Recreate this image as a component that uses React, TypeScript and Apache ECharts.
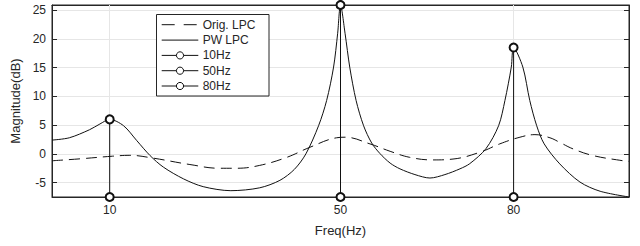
import React, { useEffect, useRef } from 'react';
import * as echarts from 'echarts';

// PW LPC (solid) curve
const pwFreq = [0, 3, 6.5, 8.3, 10, 12.4, 14.7, 17, 19.3, 22.8, 26.2, 31, 36, 39.5, 42, 44, 46.2, 47.6, 48.8, 49.5, 50, 50.8, 51.6, 52.7, 54, 55.4, 56.8, 58.6, 60.3, 62.9, 65.5, 68.1, 70.7, 72.4, 75.2, 77.4, 78.5, 79.6, 80, 81.6, 82.8, 84, 85.3, 88, 91.5, 95, 100];
const pwMag = [2.4, 2.8, 4.2, 5.2, 6.0, 4.9, 2.3, -0.3, -2.3, -4.35, -5.7, -6.4, -5.9, -4.6, -2.7, 0.0, 4.9, 9.3, 15.1, 20.9, 25.9, 20.9, 15.1, 9.3, 4.9, 1.9, 0.1, -1.6, -2.6, -3.6, -4.2, -3.6, -2.6, -1.7, 0.9, 4.9, 9.3, 15.1, 18.5, 15.1, 9.3, 4.9, 1.74, -1.74, -4.9, -6.5, -7.5];

// Orig. LPC (dashed) curve
const origFreq = [0, 5, 10.5, 13.5, 17.3, 23.9, 29, 32, 36, 40.7, 44.7, 49.3, 50.8, 55.1, 58.6, 62, 66, 69.5, 74.2, 77.6, 81.1, 83.7, 86.3, 88, 90.3, 93.8, 98.8, 100];
const origMag = [-1.2, -0.85, -0.4, -0.25, -0.7, -1.85, -2.5, -2.5, -2.0, -0.6, 1.15, 2.8, 2.9, 1.74, 0.45, -0.6, -1.05, -0.9, 0.3, 1.74, 2.9, 3.35, 2.8, 2.0, 0.87, -0.3, -1.17, -1.3];

// stems
const stemNames = ['10Hz', '50Hz', '80Hz'];
const stemFreq = [10, 50, 80];
const stemPeak = [6.0, 25.9, 18.5];

const xTicks = [10, 50, 80];
const yTicks = [-5, 0, 5, 10, 15, 20, 25];
const xMin = 0;
const xMax = 100;
const yMin = -7.5;
const yMax = 25.9;

const legendNames = ['Orig. LPC', 'PW LPC', ...stemNames];

const FONT = "'Liberation Sans', Arial, Helvetica, sans-serif";
const AX = '#262626';
const GRID = '#e6e6e6';

export default function App() {
  const ref = useRef<HTMLDivElement>(null);
  useEffect(() => {
    if (!ref.current) return;
    const chart = echarts.init(ref.current, undefined, { renderer: 'svg' });

    const zip = (xs: number[], ys: number[]) => xs.map((x, i) => [x, ys[i]]);

    const stemSeries = stemNames.map((name, i) => ({
      name,
      type: 'line',
      data: [
        [stemFreq[i], yMin],
        [stemFreq[i], stemPeak[i]],
      ],
      symbol: 'emptyCircle',
      symbolSize: 8,
      showSymbol: true,
      clip: false,
      z: 5,
      lineStyle: { color: '#111', width: 1 },
      itemStyle: { color: '#111', borderColor: '#111', borderWidth: 1 },
    }));

    // legend built from graphic elements
    const lx = 156.5, ly = 14.5, lw = 112.5, lh = 81.5;
    const rows = [24.7, 40.1, 55.4, 70.7, 86.0];
    const lineX1 = 161.7, lineX2 = 198.3, textX = 202.7;
    const legendEls: any[] = [
      { type: 'rect', shape: { x: lx, y: ly, width: lw, height: lh }, style: { fill: '#fff', stroke: AX, lineWidth: 1 }, z: 100 },
    ];
    legendNames.forEach((name, i) => {
      const y = rows[i];
      legendEls.push({
        type: 'line',
        shape: { x1: lineX1, y1: y, x2: lineX2, y2: y },
        style: { stroke: '#111', lineWidth: 1, lineDash: i === 0 ? [13, 9] : null },
        z: 101,
      });
      if (i >= 2) {
        legendEls.push({
          type: 'circle',
          shape: { cx: (lineX1 + lineX2) / 2, cy: y, r: 3.6 },
          style: { stroke: '#111', fill: '#fff', lineWidth: 1 },
          z: 102,
        });
      }
      legendEls.push({
        type: 'text',
        x: textX,
        y: y,
        style: { text: name, fontSize: 12, fontFamily: FONT, fill: AX, verticalAlign: 'middle', align: 'left' },
        z: 102,
      });
    });

    const axisLine = { show: true, onZero: false, lineStyle: { color: AX, width: 1 } };

    chart.setOption({
      animation: false,
      backgroundColor: '#fff',
      grid: { left: 52, right: 11, top: 5, bottom: 49, show: true, borderColor: AX, borderWidth: 1, backgroundColor: '#fff' },
      xAxis: [
        {
          type: 'value',
          min: xMin,
          max: xMax,
          position: 'bottom',
          name: 'Freq(Hz)',
          nameLocation: 'middle',
          nameGap: 27,
          nameTextStyle: { fontSize: 13, fontFamily: FONT, color: AX },
          axisLine,
          axisTick: { show: true, inside: true, length: 5, customValues: xTicks, lineStyle: { color: AX } },
          axisLabel: { show: true, customValues: xTicks, fontSize: 12, fontFamily: FONT, color: AX, margin: 7 },
          splitLine: { show: false },
        },
        {
          type: 'value',
          min: xMin,
          max: xMax,
          position: 'top',
          axisLine,
          axisTick: { show: true, inside: true, length: 5, customValues: xTicks, lineStyle: { color: AX } },
          axisLabel: { show: false },
          splitLine: { show: false },
        },
      ],
      yAxis: [
        {
          type: 'value',
          min: yMin,
          max: yMax,
          splitNumber: 6,
          position: 'left',
          name: 'Magnitude(dB)',
          nameLocation: 'middle',
          nameGap: 27,
          nameTextStyle: { fontSize: 13, fontFamily: FONT, color: AX },
          axisLine,
          axisTick: { show: true, inside: true, length: 5, customValues: yTicks, lineStyle: { color: AX } },
          axisLabel: { show: true, customValues: yTicks, fontSize: 12, fontFamily: FONT, color: AX, margin: 6 },
          splitLine: { show: true, lineStyle: { color: GRID, width: 1 } },
        },
        {
          type: 'value',
          min: yMin,
          max: yMax,
          position: 'right',
          axisLine,
          axisTick: { show: true, inside: true, length: 5, customValues: yTicks, lineStyle: { color: AX } },
          axisLabel: { show: false },
          splitLine: { show: false },
        },
      ],
      series: [
        {
          name: 'Orig. LPC',
          type: 'line',
          data: zip(origFreq, origMag),
          symbol: 'none',
          smooth: 0.4,
          z: 3,
          lineStyle: { color: '#111', width: 1, type: [11, 6] },
          markLine: {
            silent: true,
            symbol: 'none',
            label: { show: false },
            lineStyle: { color: GRID, width: 1, type: 'solid' },
            data: xTicks.map((v) => ({ xAxis: v })),
            z: 1,
          },
        },
        {
          name: 'PW LPC',
          type: 'line',
          data: zip(pwFreq, pwMag),
          symbol: 'none',
          smooth: 0.3,
          z: 4,
          lineStyle: { color: '#111', width: 1 },
        },
        ...stemSeries,
      ],
      graphic: legendEls,
    });

    return () => chart.dispose();
  }, []);

  return <div ref={ref} style={{ position: 'absolute', left: 0, top: 0, width: 640, height: 246 }} />;
}
